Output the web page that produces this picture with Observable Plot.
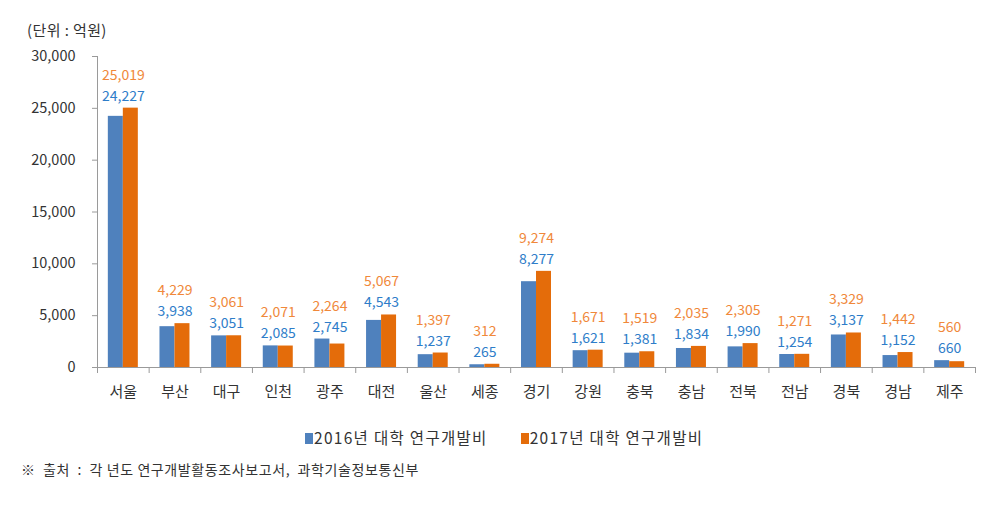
<!DOCTYPE html>
<html>
<head>
<meta charset="utf-8">
<script src="https://cdn.jsdelivr.net/npm/d3@7"></script>
<script src="https://cdn.jsdelivr.net/npm/@observablehq/plot@0.6"></script>
<style>
  body { margin: 0; background: #fff; font-family: "Noto Sans CJK KR", "Noto Sans", sans-serif; }
  #wrap { position: relative; width: 996px; height: 507px; }
  #unit { position: absolute; left: 27px; top: 19px; font-size: 15px; letter-spacing: 0.4px; color: #333; white-space: pre; }
  #chart { position: absolute; left: 0; top: 0; }
  #legend { position: absolute; top: 426px; left: 305px; font-size: 15.5px; letter-spacing: 1.3px; color: #333; display: flex; gap: 33px; white-space: pre; }
  #legend span.sw { display: inline-block; width: 8px; height: 11px; margin-right: 1px; vertical-align: 0px; }
  #caption { position: absolute; left: 21px; top: 459px; font-size: 14px; letter-spacing: 0.6px; color: #333; white-space: pre; }
</style>
</head>
<body>
<div id="wrap">
  <div id="chart"></div>
  <div id="unit">(단위 : 억원)</div>
  <div id="legend"></div>
  <div id="caption">※  출처  :  각 년도 연구개발활동조사보고서,  과학기술정보통신부</div>
</div>
<script>
const regions = ["서울","부산","대구","인천","광주","대전","울산","세종","경기","강원","충북","충남","전북","전남","경북","경남","제주"];
const series = ["2016년 대학 연구개발비", "2017년 대학 연구개발비"];
const values2016 = [24227, 3938, 3051, 2085, 2745, 4543, 1237, 265, 8277, 1621, 1381, 1834, 1990, 1254, 3137, 1152, 660];
const values2017 = [25019, 4229, 3061, 2071, 2264, 5067, 1397, 312, 9274, 1671, 1519, 2035, 2305, 1271, 3329, 1442, 560];
const yTicks = [0, 5000, 10000, 15000, 20000, 25000, 30000];

const barColors = ["#4F81BD", "#E46C0A"];
const labelColors = ["#2E7DC9", "#F0883A"];

const d16 = regions.map((r, i) => ({region: r, series: series[0], value: values2016[i], top: Math.max(values2016[i], values2017[i])}));
const d17 = regions.map((r, i) => ({region: r, series: series[1], value: values2017[i], top: Math.max(values2016[i], values2017[i])}));

const W = 996, H = 410, mL = 97, mR = 21;
const bw = (W - mL - mR) / regions.length;
const barW = 15;
const side = (bw - 2 * barW) / 2;
const fmt = d3.format(",");

const chart = Plot.plot({
  width: W,
  height: H,
  marginLeft: mL,
  marginRight: mR,
  marginTop: 56,
  marginBottom: 43,
  style: {fontFamily: "'Noto Sans CJK KR', 'Noto Sans', sans-serif", fontSize: "14px", color: "#333", background: "#fff"},
  x: {type: "band", domain: regions, padding: 0, round: false},
  y: {domain: [0, 30000]},
  marks: [
    Plot.barY(d16, {x: "region", y: "value", fill: barColors[0], insetLeft: side, insetRight: side + barW}),
    Plot.barY(d17, {x: "region", y: "value", fill: barColors[1], insetLeft: side + barW, insetRight: side}),
    Plot.ruleY([0], {stroke: "#9a9a9a", strokeWidth: 1}),
    Plot.ruleX([regions[0]], {y1: 0, y2: 30000, dx: -bw / 2, stroke: "#9a9a9a"}),
    Plot.axisY({ticks: yTicks, tickFormat: fmt, tickSize: 5, tickPadding: 17, stroke: "#9a9a9a", fill: "#333", fontSize: 14.5, label: null}),
    Plot.axisX({tickSize: 6, tickFormat: null, dx: -bw / 2, stroke: "#9a9a9a", label: null}),
    Plot.axisX({ticks: [regions[regions.length - 1]], tickSize: 6, tickFormat: null, dx: bw / 2, stroke: "#9a9a9a", label: null}),
    Plot.axisX({tickSize: 0, tickPadding: 19, fill: "#333", fontSize: 15, label: null}),
    Plot.text(d16, {x: "region", y: "top", text: d => fmt(d.value), dy: -12, fill: labelColors[0], fontSize: 14}),
    Plot.text(d17, {x: "region", y: "top", text: d => fmt(d.value), dy: -33, fill: labelColors[1], fontSize: 14})
  ]
});
document.getElementById("chart").appendChild(chart);

const legend = document.getElementById("legend");
series.forEach((s, i) => {
  const item = document.createElement("div");
  item.innerHTML = `<span class="sw" style="background:${barColors[i]}"></span>${s}`;
  legend.appendChild(item);
});
</script>
</body>
</html>
